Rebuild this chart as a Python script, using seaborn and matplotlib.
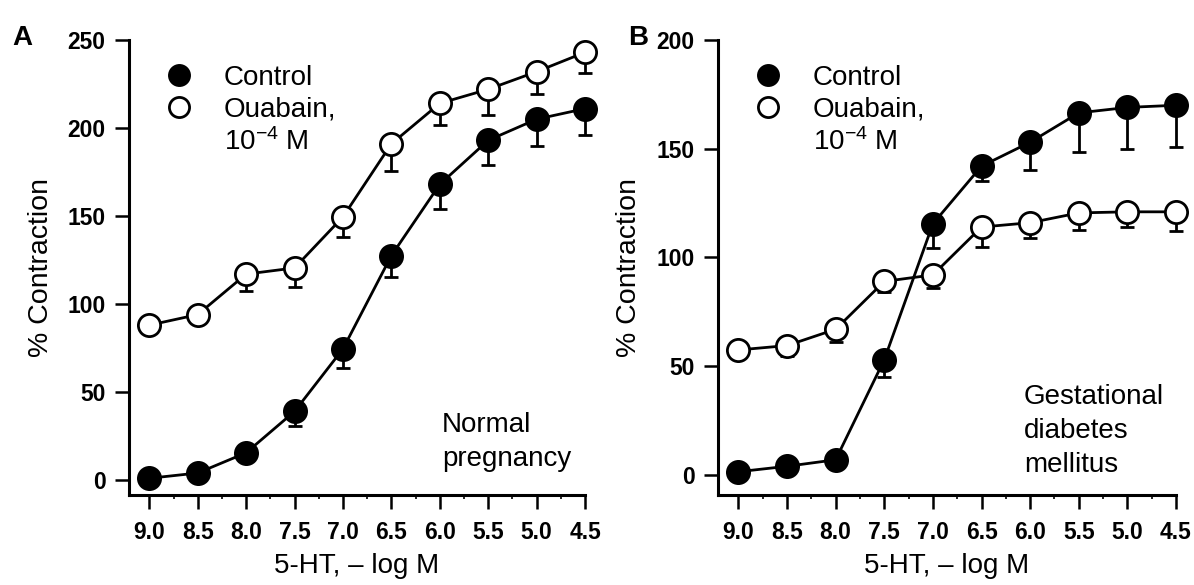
import numpy as np
import seaborn as sns
import matplotlib.pyplot as plt
from matplotlib.lines import Line2D
from matplotlib.ticker import MultipleLocator, FormatStrFormatter

# 5-HT concentration (-log M)
conc = [9.0, 8.5, 8.0, 7.5, 7.0, 6.5, 6.0, 5.5, 5.0, 4.5]

# A: normal pregnancy
np_control = [1, 4, 15.5, 39, 74.5, 127.5, 168, 193, 205, 211]
np_control_err = [0, 0, 0, 8.5, 11, 12, 14, 14, 15, 15]
np_ouabain = [88, 94, 117, 120.5, 149.5, 191, 214, 222, 232, 243]
np_ouabain_err = [2, 2, 9.5, 11, 11.5, 15.5, 12.5, 14.5, 12.5, 12]

# B: gestational diabetes mellitus
gdm_control = [1.5, 4, 7, 53, 115.5, 142, 153, 166.5, 169, 170]
gdm_control_err = [0, 0, 0, 8, 11, 7, 13, 18, 19, 19]
gdm_ouabain = [57.5, 59.5, 67, 89, 92, 114, 116, 120.5, 121, 121]
gdm_ouabain_err = [3, 5, 6, 5, 6, 9, 7, 8, 7, 9]

sns.set_style("ticks")
plt.rcParams["font.family"] = ["Liberation Sans", "DejaVu Sans"]
plt.rcParams["mathtext.fontset"] = "custom"
plt.rcParams["mathtext.rm"] = "Liberation Sans"
plt.rcParams["mathtext.default"] = "rm"
for k in ["text.color", "axes.labelcolor", "xtick.color", "ytick.color",
          "axes.edgecolor"]:
    plt.rcParams[k] = "black"

LW = 2.0
MS = 16
FS = 20


def draw(ax, ctrl, ctrl_err, oua, oua_err, ytop, note, note_y):
    for y, err, fill in [(ctrl, ctrl_err, "black"), (oua, oua_err, "white")]:
        eb = ax.errorbar(conc, y, yerr=[err, np.zeros(len(err))], fmt="none",
                         ecolor="black", elinewidth=LW, capsize=5,
                         capthick=LW, zorder=2)
        for art in eb.lines[1] + eb.lines[2]:
            art.set_clip_on(False)
        sns.lineplot(x=conc, y=y, ax=ax, color="black", lw=LW, marker="o",
                     markersize=MS, markerfacecolor=fill,
                     markeredgecolor="black", markeredgewidth=LW,
                     legend=False, zorder=3, clip_on=False)

    ax.set_xlim(9.21, 4.5)
    ax.set_ylim(-8.5 if ytop == 250 else -9.2, ytop)
    ax.xaxis.set_major_locator(MultipleLocator(0.5))
    ax.xaxis.set_minor_locator(MultipleLocator(0.25))
    ax.xaxis.set_major_formatter(FormatStrFormatter("%.1f"))
    ax.yaxis.set_major_locator(MultipleLocator(50))
    ax.tick_params(axis="both", which="major", length=10, width=1.8,
                   labelsize=16.5)
    ax.tick_params(axis="x", which="major", pad=9)
    ax.tick_params(axis="y", which="major", pad=7)
    ax.tick_params(axis="x", which="minor", length=3, width=1.2)
    for lab in ax.get_xticklabels() + ax.get_yticklabels():
        lab.set_fontweight("bold")
    for s in ["left", "bottom"]:
        ax.spines[s].set_linewidth(2.2)
    sns.despine(ax=ax)

    ax.set_xlabel("5-HT, \u2013 log M", fontsize=FS)
    ax.set_ylabel("% Contraction", fontsize=FS + 0.5)
    ax.xaxis.set_label_coords(0.5, -0.128)
    ax.yaxis.set_label_coords(-0.165, 0.5)

    handles = [
        Line2D([], [], ls="none", marker="o", ms=14.5, mfc="black",
               mec="black", mew=LW),
        Line2D([], [], ls="none", marker="o", ms=14.5, mfc="white",
               mec="black", mew=LW),
        Line2D([], [], ls="none"),
    ]
    ax.legend(handles, ["Control", "Ouabain,", "10$^{-4}$ M"],
              loc="upper left", bbox_to_anchor=(0.055, 0.97), frameon=False,
              fontsize=FS, handlelength=1.0, handletextpad=1.1,
              labelspacing=0.2, borderaxespad=0)

    ax.text(note[0], note_y, note[1], transform=ax.transAxes, fontsize=FS,
            ha="left", va="bottom", linespacing=1.4)


fig = plt.figure(figsize=(11.94, 5.85), dpi=100)
ax1 = fig.add_axes([129 / 1194, 1 - 495 / 585, 456 / 1194, 455 / 585])
ax2 = fig.add_axes([718 / 1194, 1 - 495 / 585, 458 / 1194, 455 / 585])

draw(ax1, np_control, np_control_err, np_ouabain, np_ouabain_err, 250,
     (0.686, "Normal\npregnancy"), 0.05)
draw(ax2, gdm_control, gdm_control_err, gdm_ouabain, gdm_ouabain_err, 200,
     (0.668, "Gestational\ndiabetes\nmellitus"), 0.038)

fig.text(22 / 1194, 1 - 38 / 585, "A", fontsize=20, fontweight="bold",
         ha="center", va="center")
fig.text(638 / 1194, 1 - 38 / 585, "B", fontsize=20, fontweight="bold",
         ha="center", va="center")

fig.savefig("out.png", dpi=100)
